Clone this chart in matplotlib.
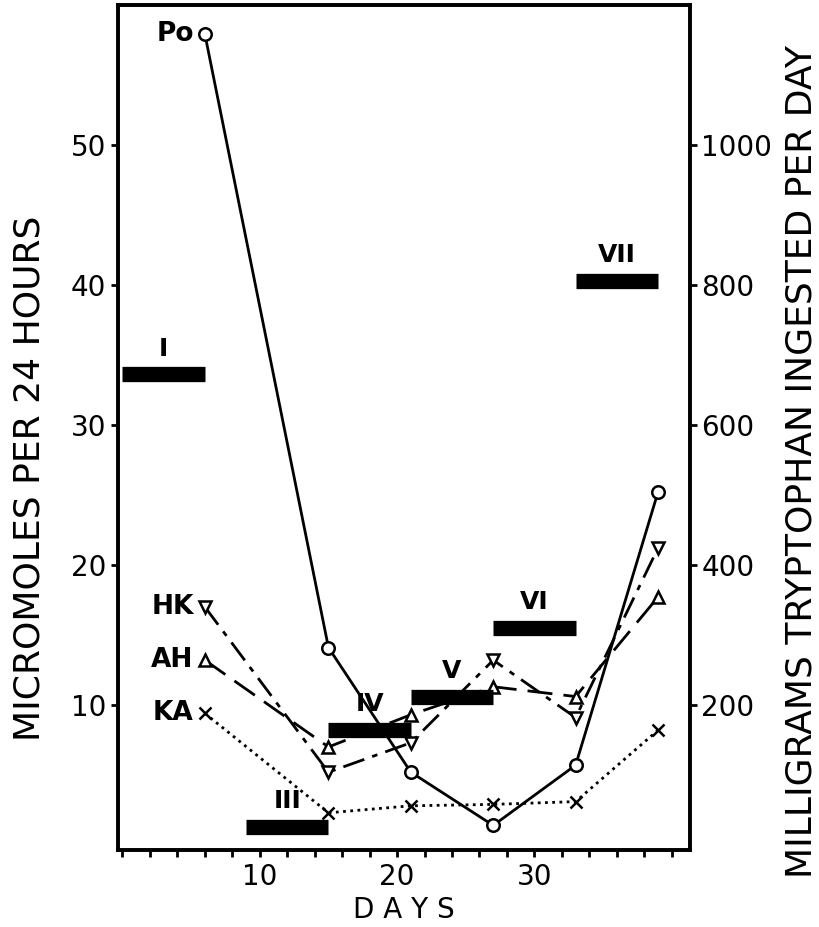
import matplotlib.pyplot as plt
import matplotlib.ticker as mticker

# urinary excretion, micromoles per 24 hours
days = [6, 15, 21, 27, 33, 39]
po = [57.9, 14.1, 5.2, 1.4, 5.7, 25.2]
hk = [17.0, 5.2, 7.3, 13.2, 9.1, 21.2]
ah = [13.2, 7.0, 9.3, 11.3, 10.6, 17.7]
ka = [9.4, 2.3, 2.8, 2.9, 3.1, 8.2]

# tryptophan intake periods (mg per day)
periods = ['I', 'III', 'IV', 'V', 'VI', 'VII']
period_start = [0, 9, 15, 21, 27, 33]
period_end = [6, 15, 21, 27, 33, 39]
period_mg = [672, 26, 164, 212, 310, 806]

plt.rcParams['font.family'] = 'DejaVu Sans'

fig = plt.figure(figsize=(8.19, 9.27), dpi=100)
ax = fig.add_axes([0.144, 0.083, 0.698, 0.912])

mk = dict(markersize=9, markerfacecolor='white', markeredgecolor='black',
          markeredgewidth=1.8, color='black', linewidth=2)
ax.plot(days, po, linestyle='-', marker='o', **mk)
ax.plot(days, hk, linestyle=(0, (8, 3, 2, 3)), marker='v', **mk)
ax.plot(days, ah, linestyle=(0, (9, 4)), marker='^', **mk)
ax.plot(days, ka, linestyle=(0, (1, 1.6)), marker='x', **mk)

for name, y in zip(['Po', 'HK', 'AH', 'KA'], [po[0], hk[0], ah[0], ka[0]]):
    ax.annotate(name, (days[0], y), xytext=(-8, 0), textcoords='offset points',
                ha='right', va='center', fontsize=19, fontweight='bold')

ax.set_xlim(-0.33, 41.3)
ax.set_ylim(-0.36, 60)
ax.set_xticks([10, 20, 30])
ax.xaxis.set_minor_locator(mticker.MultipleLocator(2))
ax.set_yticks([10, 20, 30, 40, 50])
ax.tick_params(axis='both', which='both', direction='out', width=2, length=5,
               labelsize=20)
ax.tick_params(axis='x', pad=4)
for s in ax.spines.values():
    s.set_linewidth(2.6)

ax.set_xlabel('D A Y S', fontsize=20, labelpad=4)
ax.set_ylabel('MICROMOLES PER 24 HOURS', fontsize=26)
ax.yaxis.set_label_coords(-0.125, 0.44)

ax2 = ax.twinx()
ax2.set_ylim(-0.36 * 20, 60 * 20)
ax2.set_yticks([200, 400, 600, 800, 1000])
ax2.tick_params(axis='y', direction='out', width=2, length=5, labelsize=20)
for s in ax2.spines.values():
    s.set_linewidth(2.6)
ax2.set_ylabel('MILLIGRAMS TRYPTOPHAN INGESTED PER DAY', fontsize=26)
ax2.yaxis.set_label_coords(1.166, 0.46)

ax2.hlines(period_mg, period_start, period_end, colors='black', linewidth=11,
           zorder=5)
for lab, a, b, v in zip(periods, period_start, period_end, period_mg):
    ax2.annotate(lab, ((a + b) / 2, v), xytext=(0, 10), textcoords='offset points',
                 ha='center', va='bottom', fontsize=18, fontweight='bold')

fig.savefig('out.png', dpi=100)
